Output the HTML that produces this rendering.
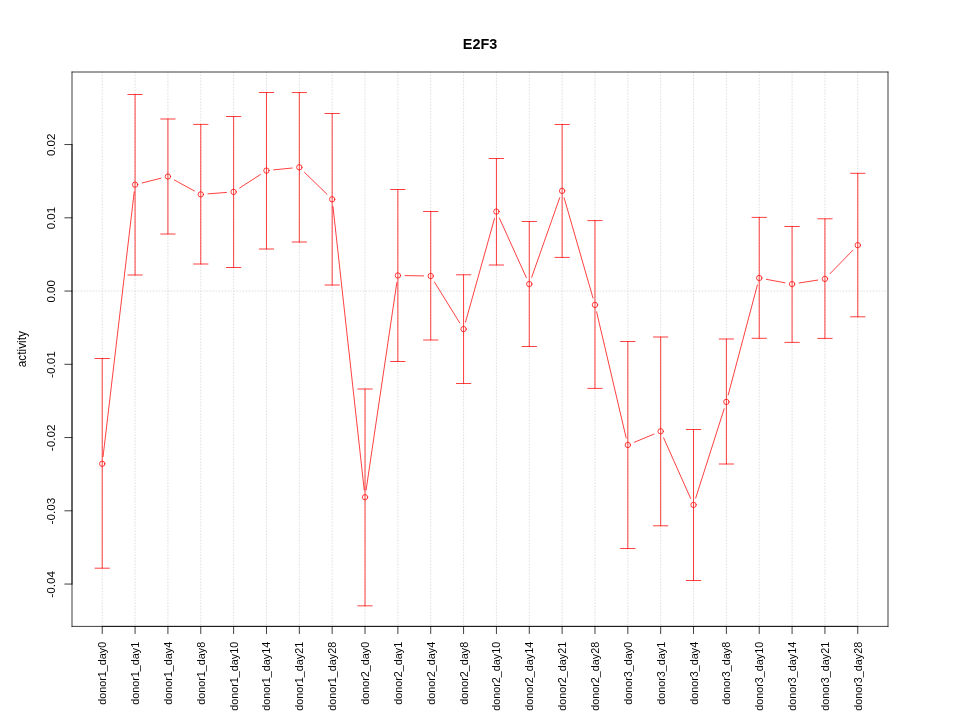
<!DOCTYPE html>
<html lang="en"><head><meta charset="utf-8"><title>E2F3</title>
<style>
html,body{margin:0;padding:0;background:#fff;}
body{width:960px;height:720px;overflow:hidden;}
svg{display:block;will-change:transform;}
text{font-family:"Liberation Sans", Arial, Helvetica, sans-serif;fill:#000;}
</style></head><body>
<svg width="960" height="720" viewBox="0 0 960 720">
<rect width="960" height="720" fill="#fff"/>
<g stroke="#d3d3d3" stroke-width="0.75" stroke-dasharray="0.75 2.25" stroke-linecap="round" fill="none">
<line x1="102.22" y1="72.0" x2="102.22" y2="626.4"/>
<line x1="135.07" y1="72.0" x2="135.07" y2="626.4"/>
<line x1="167.92" y1="72.0" x2="167.92" y2="626.4"/>
<line x1="200.77" y1="72.0" x2="200.77" y2="626.4"/>
<line x1="233.62" y1="72.0" x2="233.62" y2="626.4"/>
<line x1="266.47" y1="72.0" x2="266.47" y2="626.4"/>
<line x1="299.32" y1="72.0" x2="299.32" y2="626.4"/>
<line x1="332.17" y1="72.0" x2="332.17" y2="626.4"/>
<line x1="365.02" y1="72.0" x2="365.02" y2="626.4"/>
<line x1="397.87" y1="72.0" x2="397.87" y2="626.4"/>
<line x1="430.72" y1="72.0" x2="430.72" y2="626.4"/>
<line x1="463.57" y1="72.0" x2="463.57" y2="626.4"/>
<line x1="496.43" y1="72.0" x2="496.43" y2="626.4"/>
<line x1="529.28" y1="72.0" x2="529.28" y2="626.4"/>
<line x1="562.13" y1="72.0" x2="562.13" y2="626.4"/>
<line x1="594.98" y1="72.0" x2="594.98" y2="626.4"/>
<line x1="627.83" y1="72.0" x2="627.83" y2="626.4"/>
<line x1="660.68" y1="72.0" x2="660.68" y2="626.4"/>
<line x1="693.53" y1="72.0" x2="693.53" y2="626.4"/>
<line x1="726.38" y1="72.0" x2="726.38" y2="626.4"/>
<line x1="759.23" y1="72.0" x2="759.23" y2="626.4"/>
<line x1="792.08" y1="72.0" x2="792.08" y2="626.4"/>
<line x1="824.93" y1="72.0" x2="824.93" y2="626.4"/>
<line x1="857.78" y1="72.0" x2="857.78" y2="626.4"/>
<line x1="72.0" y1="291.05" x2="888.0" y2="291.05"/>
</g>
<g stroke="#000" stroke-width="0.75" fill="none" stroke-linecap="round" stroke-linejoin="round">
<line x1="72.0" y1="72.0" x2="888.0" y2="72.0"/><line x1="888.0" y1="72.0" x2="888.0" y2="626.4"/><line x1="888.0" y1="626.4" x2="72.0" y2="626.4"/><line x1="72.0" y1="626.4" x2="72.0" y2="72.0"/>
<line x1="72.0" y1="144.55" x2="72.0" y2="584.05"/>
<line x1="72.0" y1="144.55" x2="64.8" y2="144.55"/>
<line x1="72.0" y1="217.80" x2="64.8" y2="217.80"/>
<line x1="72.0" y1="291.05" x2="64.8" y2="291.05"/>
<line x1="72.0" y1="364.30" x2="64.8" y2="364.30"/>
<line x1="72.0" y1="437.55" x2="64.8" y2="437.55"/>
<line x1="72.0" y1="510.80" x2="64.8" y2="510.80"/>
<line x1="72.0" y1="584.05" x2="64.8" y2="584.05"/>
<line x1="102.22" y1="626.4" x2="857.78" y2="626.4"/>
<line x1="102.22" y1="626.4" x2="102.22" y2="633.6"/>
<line x1="135.07" y1="626.4" x2="135.07" y2="633.6"/>
<line x1="167.92" y1="626.4" x2="167.92" y2="633.6"/>
<line x1="200.77" y1="626.4" x2="200.77" y2="633.6"/>
<line x1="233.62" y1="626.4" x2="233.62" y2="633.6"/>
<line x1="266.47" y1="626.4" x2="266.47" y2="633.6"/>
<line x1="299.32" y1="626.4" x2="299.32" y2="633.6"/>
<line x1="332.17" y1="626.4" x2="332.17" y2="633.6"/>
<line x1="365.02" y1="626.4" x2="365.02" y2="633.6"/>
<line x1="397.87" y1="626.4" x2="397.87" y2="633.6"/>
<line x1="430.72" y1="626.4" x2="430.72" y2="633.6"/>
<line x1="463.57" y1="626.4" x2="463.57" y2="633.6"/>
<line x1="496.43" y1="626.4" x2="496.43" y2="633.6"/>
<line x1="529.28" y1="626.4" x2="529.28" y2="633.6"/>
<line x1="562.13" y1="626.4" x2="562.13" y2="633.6"/>
<line x1="594.98" y1="626.4" x2="594.98" y2="633.6"/>
<line x1="627.83" y1="626.4" x2="627.83" y2="633.6"/>
<line x1="660.68" y1="626.4" x2="660.68" y2="633.6"/>
<line x1="693.53" y1="626.4" x2="693.53" y2="633.6"/>
<line x1="726.38" y1="626.4" x2="726.38" y2="633.6"/>
<line x1="759.23" y1="626.4" x2="759.23" y2="633.6"/>
<line x1="792.08" y1="626.4" x2="792.08" y2="633.6"/>
<line x1="824.93" y1="626.4" x2="824.93" y2="633.6"/>
<line x1="857.78" y1="626.4" x2="857.78" y2="633.6"/>
</g>
<g stroke="#ff0000" stroke-width="0.75" fill="none" stroke-linecap="round">
<path d="M102.22 358.50V568.20M95.02 358.50H109.42M95.02 568.20H109.42"/>
<path d="M135.07 94.50V275.00M127.87 94.50H142.27M127.87 275.00H142.27"/>
<path d="M167.92 119.00V234.00M160.72 119.00H175.12M160.72 234.00H175.12"/>
<path d="M200.77 124.40V264.00M193.57 124.40H207.97M193.57 264.00H207.97"/>
<path d="M233.62 116.50V267.50M226.42 116.50H240.82M226.42 267.50H240.82"/>
<path d="M266.47 92.50V249.00M259.27 92.50H273.67M259.27 249.00H273.67"/>
<path d="M299.32 92.55V242.00M292.12 92.55H306.52M292.12 242.00H306.52"/>
<path d="M332.17 113.50V285.00M324.97 113.50H339.37M324.97 285.00H339.37"/>
<path d="M365.02 389.00V605.85M357.82 389.00H372.22M357.82 605.85H372.22"/>
<path d="M397.87 189.50V361.50M390.67 189.50H405.07M390.67 361.50H405.07"/>
<path d="M430.72 211.50V340.00M423.52 211.50H437.92M423.52 340.00H437.92"/>
<path d="M463.57 274.80V383.50M456.37 274.80H470.77M456.37 383.50H470.77"/>
<path d="M496.43 158.50V265.00M489.23 158.50H503.63M489.23 265.00H503.63"/>
<path d="M529.28 221.50V346.50M522.08 221.50H536.48M522.08 346.50H536.48"/>
<path d="M562.13 124.50V257.40M554.93 124.50H569.33M554.93 257.40H569.33"/>
<path d="M594.98 220.60V388.40M587.78 220.60H602.18M587.78 388.40H602.18"/>
<path d="M627.83 341.50V548.50M620.63 341.50H635.03M620.63 548.50H635.03"/>
<path d="M660.68 337.00V525.80M653.48 337.00H667.88M653.48 525.80H667.88"/>
<path d="M693.53 429.50V580.50M686.33 429.50H700.73M686.33 580.50H700.73"/>
<path d="M726.38 339.00V464.00M719.18 339.00H733.58M719.18 464.00H733.58"/>
<path d="M759.23 217.40V338.30M752.03 217.40H766.43M752.03 338.30H766.43"/>
<path d="M792.08 226.50V342.40M784.88 226.50H799.28M784.88 342.40H799.28"/>
<path d="M824.93 218.80V338.40M817.73 218.80H832.13M817.73 338.40H832.13"/>
<path d="M857.78 173.30V316.80M850.58 173.30H864.98M850.58 316.80H864.98"/>
<line x1="103.06" y1="456.65" x2="134.23" y2="191.85"/>
<line x1="142.06" y1="182.96" x2="160.94" y2="178.24"/>
<line x1="174.25" y1="179.95" x2="194.45" y2="190.95"/>
<line x1="207.95" y1="193.85" x2="226.44" y2="192.45"/>
<line x1="239.66" y1="187.98" x2="260.43" y2="174.52"/>
<line x1="273.64" y1="169.88" x2="292.16" y2="168.02"/>
<line x1="304.48" y1="172.32" x2="327.02" y2="194.28"/>
<line x1="332.96" y1="206.46" x2="364.23" y2="490.04"/>
<line x1="366.08" y1="490.08" x2="396.82" y2="282.62"/>
<line x1="405.07" y1="275.61" x2="423.53" y2="275.89"/>
<line x1="434.51" y1="282.12" x2="459.79" y2="322.98"/>
<line x1="465.51" y1="322.17" x2="494.49" y2="218.53"/>
<line x1="499.40" y1="218.16" x2="526.30" y2="277.54"/>
<line x1="531.67" y1="277.31" x2="559.73" y2="197.69"/>
<line x1="564.12" y1="197.82" x2="592.98" y2="297.98"/>
<line x1="596.62" y1="311.91" x2="626.18" y2="437.99"/>
<line x1="634.47" y1="442.23" x2="654.03" y2="434.07"/>
<line x1="663.61" y1="437.87" x2="690.59" y2="498.33"/>
<line x1="695.71" y1="498.04" x2="724.19" y2="408.76"/>
<line x1="728.22" y1="394.94" x2="757.38" y2="284.96"/>
<line x1="766.31" y1="279.31" x2="785.00" y2="282.79"/>
<line x1="799.19" y1="282.97" x2="817.82" y2="280.03"/>
<line x1="829.95" y1="273.74" x2="852.75" y2="250.36"/>
<circle cx="102.22" cy="463.80" r="2.7"/>
<circle cx="135.07" cy="184.70" r="2.7"/>
<circle cx="167.92" cy="176.50" r="2.7"/>
<circle cx="200.77" cy="194.40" r="2.7"/>
<circle cx="233.62" cy="191.90" r="2.7"/>
<circle cx="266.47" cy="170.60" r="2.7"/>
<circle cx="299.32" cy="167.30" r="2.7"/>
<circle cx="332.17" cy="199.30" r="2.7"/>
<circle cx="365.02" cy="497.20" r="2.7"/>
<circle cx="397.87" cy="275.50" r="2.7"/>
<circle cx="430.72" cy="276.00" r="2.7"/>
<circle cx="463.57" cy="329.10" r="2.7"/>
<circle cx="496.43" cy="211.60" r="2.7"/>
<circle cx="529.28" cy="284.10" r="2.7"/>
<circle cx="562.13" cy="190.90" r="2.7"/>
<circle cx="594.98" cy="304.90" r="2.7"/>
<circle cx="627.83" cy="445.00" r="2.7"/>
<circle cx="660.68" cy="431.30" r="2.7"/>
<circle cx="693.53" cy="504.90" r="2.7"/>
<circle cx="726.38" cy="401.90" r="2.7"/>
<circle cx="759.23" cy="278.00" r="2.7"/>
<circle cx="792.08" cy="284.10" r="2.7"/>
<circle cx="824.93" cy="278.90" r="2.7"/>
<circle cx="857.78" cy="245.20" r="2.7"/>
</g>
<g opacity="0.999">
<text transform="translate(480 49.4) scale(1 1.08)" text-anchor="middle" font-size="14.4" font-weight="bold">E2F3</text>
<text transform="translate(26.4 349.20) rotate(-90)" text-anchor="middle" font-size="11.9">activity</text>
<text transform="translate(55.1 144.85) rotate(-90)" text-anchor="middle" font-size="11.5">0.02</text>
<text transform="translate(55.1 218.10) rotate(-90)" text-anchor="middle" font-size="11.5">0.01</text>
<text transform="translate(55.1 291.35) rotate(-90)" text-anchor="middle" font-size="11.5">0.00</text>
<text transform="translate(55.1 364.60) rotate(-90)" text-anchor="middle" font-size="11.8">-0.01</text>
<text transform="translate(55.1 437.85) rotate(-90)" text-anchor="middle" font-size="11.8">-0.02</text>
<text transform="translate(55.1 511.10) rotate(-90)" text-anchor="middle" font-size="11.8">-0.03</text>
<text transform="translate(55.1 584.35) rotate(-90)" text-anchor="middle" font-size="11.8">-0.04</text>
<text transform="translate(105.90 641.8) rotate(-90)" text-anchor="end" font-size="10.8">donor1_day0</text>
<text transform="translate(138.90 641.8) rotate(-90)" text-anchor="end" font-size="10.8">donor1_day1</text>
<text transform="translate(171.90 641.8) rotate(-90)" text-anchor="end" font-size="10.8">donor1_day4</text>
<text transform="translate(204.90 641.8) rotate(-90)" text-anchor="end" font-size="10.8">donor1_day8</text>
<text transform="translate(237.90 641.8) rotate(-90)" text-anchor="end" font-size="10.8">donor1_day10</text>
<text transform="translate(269.90 641.8) rotate(-90)" text-anchor="end" font-size="10.8">donor1_day14</text>
<text transform="translate(302.90 641.8) rotate(-90)" text-anchor="end" font-size="10.8">donor1_day21</text>
<text transform="translate(335.90 641.8) rotate(-90)" text-anchor="end" font-size="10.8">donor1_day28</text>
<text transform="translate(368.90 641.8) rotate(-90)" text-anchor="end" font-size="10.8">donor2_day0</text>
<text transform="translate(401.90 641.8) rotate(-90)" text-anchor="end" font-size="10.8">donor2_day1</text>
<text transform="translate(434.90 641.8) rotate(-90)" text-anchor="end" font-size="10.8">donor2_day4</text>
<text transform="translate(467.90 641.8) rotate(-90)" text-anchor="end" font-size="10.8">donor2_day8</text>
<text transform="translate(499.90 641.8) rotate(-90)" text-anchor="end" font-size="10.8">donor2_day10</text>
<text transform="translate(532.90 641.8) rotate(-90)" text-anchor="end" font-size="10.8">donor2_day14</text>
<text transform="translate(565.90 641.8) rotate(-90)" text-anchor="end" font-size="10.8">donor2_day21</text>
<text transform="translate(598.90 641.8) rotate(-90)" text-anchor="end" font-size="10.8">donor2_day28</text>
<text transform="translate(631.90 641.8) rotate(-90)" text-anchor="end" font-size="10.8">donor3_day0</text>
<text transform="translate(664.90 641.8) rotate(-90)" text-anchor="end" font-size="10.8">donor3_day1</text>
<text transform="translate(697.90 641.8) rotate(-90)" text-anchor="end" font-size="10.8">donor3_day4</text>
<text transform="translate(729.90 641.8) rotate(-90)" text-anchor="end" font-size="10.8">donor3_day8</text>
<text transform="translate(762.90 641.8) rotate(-90)" text-anchor="end" font-size="10.8">donor3_day10</text>
<text transform="translate(795.90 641.8) rotate(-90)" text-anchor="end" font-size="10.8">donor3_day14</text>
<text transform="translate(828.90 641.8) rotate(-90)" text-anchor="end" font-size="10.8">donor3_day21</text>
<text transform="translate(861.90 641.8) rotate(-90)" text-anchor="end" font-size="10.8">donor3_day28</text>
</g>
</svg></body></html>
